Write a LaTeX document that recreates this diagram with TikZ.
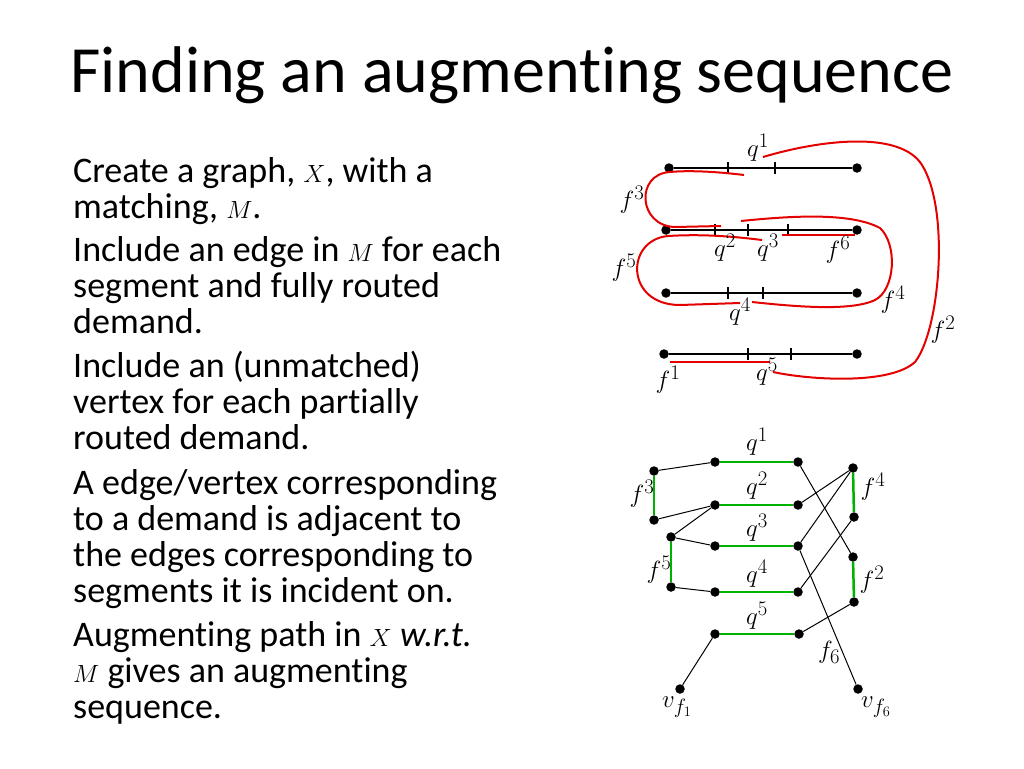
\documentclass[tikz,border=0pt]{standalone}
\usepackage{fontspec}
\setmainfont{Carlito}[Ligatures=NoCommon]
\begin{document}
\begin{tikzpicture}[x=1pt,y=-1pt,
 dot/.style={circle,fill=black,inner sep=0pt,minimum size=9.5pt},
 lab/.style={font=\fontsize{29}{32}\selectfont},
 body/.style={anchor=base west,inner sep=0pt,font=\fontsize{36}{40}\selectfont},
 red/.style={draw=red!90!black,line width=2pt},
 gr/.style={draw=green!70!black,line width=2.5pt},
 tick/.style={line width=1.6pt}]
\useasboundingbox (0,0) rectangle (1024,768);
\node[inner sep=0pt,font=\fontsize{66}{70}\selectfont] (title) at (512,75) {Finding an augmenting sequence};
% body text
\node[body] (t1) at (73,182) {Create a graph, $X$, with a};
\node[body] (t2) at (73,218) {matching, $M$.};
\node[body] (t3) at (73,261) {Include an edge in $M$ for each};
\node[body] (t4) at (73,297) {segment and fully routed};
\node[body] (t5) at (73,333) {demand.};
\node[body] (t6) at (73,377) {Include an (unmatched)};
\node[body] (t7) at (73,413) {vertex for each partially};
\node[body] (t8) at (73,449) {routed demand.};
\node[body] (t9) at (73,494) {A edge/vertex corresponding};
\node[body] (t10) at (73,530) {to a demand is adjacent to};
\node[body] (t11) at (73,566) {the edges corresponding to};
\node[body] (t12) at (73,602) {segments it is incident on.};
\node[body] (t13) at (73,646) {Augmenting path in $X$ \textit{w.r.t.}};
\node[body] (t14) at (73,682) {$M$ gives an augmenting};
\node[body] (t15) at (73,718) {sequence.};
% ---- top diagram
\foreach \n/\y/\xa in {1/168/669,2/230/666,3/293/666,4/354/664}{
  \node[dot] (L\n) at (\xa,\y) {};
  \node[dot] (R\n) at (857,\y) {};
  \draw[line width=1.3pt] (L\n) -- (R\n);
}
\foreach \x/\y in {728/168,775/168,715/230,748/230,788/230,728/293,763/293,748/354,791/354}
  \draw[tick] (\x,\y-6) -- (\x,\y+6);
% red routes
\draw[red] (744,175) .. controls (720,172) and (690,170) .. (670,172) .. controls (635,174) and (638,226) .. (675,227) -- (721,226);
\draw[red] (762,240) .. controls (730,236) and (700,234) .. (668,236) .. controls (625,240) and (625,305) .. (680,305) -- (740,303);
\draw[red] (741,221) .. controls (790,216) and (850,212) .. (880,228) .. controls (898,245) and (895,290) .. (875,300) .. controls (850,312) and (790,306) .. (752,302);
\draw[red] (763,157) .. controls (820,140) and (900,130) .. (922,165) .. controls (950,210) and (940,330) .. (915,362) .. controls (890,385) and (810,380) .. (773,372);
\draw[red] (782,235) -- (855,235);
\draw[red] (670,362) -- (770,362);
\node[lab] (lq1) at (758,148) {$q^1$};
\node[lab] (lf3) at (632,200) {$f^3$};
\node[lab] (lq2) at (725,248) {$q^2$};
\node[lab] (lq3) at (768,248) {$q^3$};
\node[lab] (lf6) at (838,250) {$f^6$};
\node[lab] (lf5) at (624,268) {$f^5$};
\node[lab] (lq4) at (740,312) {$q^4$};
\node[lab] (lf4) at (893,300) {$f^4$};
\node[lab] (lf2) at (943,330) {$f^2$};
\node[lab] (lf1) at (668,380) {$f^1$};
\node[lab] (lq5) at (767,372) {$q^5$};
% ---- bottom diagram
\node[dot] (q1L) at (715,462) {}; \node[dot] (q1R) at (798,462) {};
\node[dot] (q2L) at (715,505) {}; \node[dot] (q2R) at (798,505) {};
\node[dot] (q3L) at (715,546) {}; \node[dot] (q3R) at (798,546) {};
\node[dot] (q4L) at (715,592) {}; \node[dot] (q4R) at (798,592) {};
\node[dot] (q5L) at (715,634) {}; \node[dot] (q5R) at (799,634) {};
\node[dot] (f3a) at (654,471) {}; \node[dot] (f3b) at (654,520) {};
\node[dot] (f5a) at (671,537) {}; \node[dot] (f5b) at (671,587) {};
\node[dot] (f4a) at (853,468) {}; \node[dot] (f4b) at (854,517) {};
\node[dot] (f2a) at (853,557) {}; \node[dot] (f2b) at (854,602) {};
\node[dot] (vf1) at (680,689) {}; \node[dot] (vf6) at (858,689) {};
\foreach \a/\b in {q1L/q1R,q2L/q2R,q3L/q3R,q4L/q4R,q5L/q5R,f3a/f3b,f5a/f5b,f4a/f4b,f2a/f2b}
  \draw[gr] (\a) -- (\b);
\foreach \a/\b in {f3a/q1L,f3b/q2L,q2L/f5a,f5a/q3L,f5b/q4L,q1R/f2a,q2R/f4a,q3R/f4a,q4R/f4b,q5R/f2b,q5L/vf1,q3R/vf6}
  \draw[line width=1pt] (\a) -- (\b);
\node[lab] (bq1) at (757,442) {$q^1$};
\node[lab] (bq2) at (757,486) {$q^2$};
\node[lab] (bq3) at (757,528) {$q^3$};
\node[lab] (bq4) at (757,574) {$q^4$};
\node[lab] (bq5) at (757,616) {$q^5$};
\node[lab] (bf3) at (642,494) {$f^3$};
\node[lab] (bf5) at (659,570) {$f^5$};
\node[lab] (bf4) at (873,487) {$f^4$};
\node[lab] (bf2) at (872,580) {$f^2$};
\node[lab] (bf6) at (829,652) {$f_6$};
\node[lab] (bv1) at (677,707) {$v_{f_1}$};
\node[lab] (bv6) at (876,707) {$v_{f_6}$};
\end{tikzpicture}
\end{document}
